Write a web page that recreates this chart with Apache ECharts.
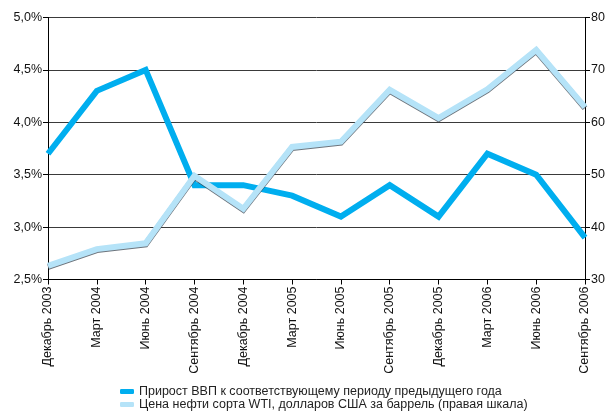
<!DOCTYPE html>
<html>
<head>
<meta charset="utf-8">
<script src="https://cdn.jsdelivr.net/npm/echarts@6/dist/echarts.min.js"></script>
<style>
  html, body { margin: 0; padding: 0; background: #fff; }
  #chart { width: 610px; height: 418px; }
</style>
</head>
<body>
<div id="chart"></div>
<script>
// Quarterly periods
const categories = [
  'Декабрь 2003', 'Март 2004', 'Июнь 2004', 'Сентябрь 2004',
  'Декабрь 2004', 'Март 2005', 'Июнь 2005', 'Сентябрь 2005',
  'Декабрь 2005', 'Март 2006', 'Июнь 2006', 'Сентябрь 2006'
];

// GDP growth vs same period of previous year, %
const gdpGrowth = [3.7, 4.3, 4.5, 3.4, 3.4, 3.3, 3.1, 3.4, 3.1, 3.7, 3.5, 2.9];

// WTI oil price, USD per barrel (right scale)
const oilPrice = [32.6, 35.8, 36.9, 49.8, 43.5, 55.3, 56.3, 66.2, 60.8, 66.3, 73.8, 62.9];

const gdpName = 'Прирост ВВП к соответствующему периоду предыдущего года';
const oilName = 'Цена нефти сорта WTI, долларов США за баррель (правая шкала)';

const FONT = '"Liberation Sans", Arial, sans-serif';

const chart = echarts.init(document.getElementById('chart'));
chart.setOption({
  animation: false,
  backgroundColor: '#fff',
  textStyle: { fontFamily: FONT },
  grid: { left: 48, right: 25, top: 17.5, bottom: 138.5 },
  legend: {
    orient: 'vertical',
    left: 120,
    top: 385,
    height: 40,
    padding: 0,
    itemWidth: 14,
    itemHeight: 5,
    itemGap: 0,
    icon: 'roundRect',
    textStyle: { fontFamily: FONT, fontSize: 12.5, lineHeight: 12, color: '#222' },
    data: [
      { name: gdpName, itemStyle: { color: '#00aeef' } },
      { name: oilName, itemStyle: { color: '#b5e3f8' } }
    ]
  },
  xAxis: {
    type: 'category',
    data: categories,
    boundaryGap: false,
    axisLine: { lineStyle: { color: '#000', width: 1 } },
    axisTick: { show: true, length: 5, alignWithLabel: true, lineStyle: { color: '#000' } },
    axisLabel: {
      rotate: 90,
      interval: 0,
      margin: 7,
      fontFamily: FONT,
      fontSize: 12.5,
      color: '#111'
    },
    splitLine: { show: false }
  },
  yAxis: [
    {
      type: 'value',
      min: 2.5,
      max: 5,
      interval: 0.5,
      axisLine: { show: true, lineStyle: { color: '#000', width: 1 } },
      axisTick: { show: true, length: 5, lineStyle: { color: '#000' } },
      axisLabel: {
        margin: 6,
        fontFamily: FONT,
        fontSize: 12.5,
        color: '#111',
        formatter: v => v.toFixed(1).replace('.', ',') + '%'
      },
      splitLine: { show: true, lineStyle: { color: '#3a3a3a', width: 1 } }
    },
    {
      type: 'value',
      min: 30,
      max: 80,
      interval: 10,
      position: 'right',
      axisLine: { show: true, lineStyle: { color: '#000', width: 1 } },
      axisTick: { show: true, length: 5, lineStyle: { color: '#000' } },
      axisLabel: {
        margin: 6,
        fontFamily: FONT,
        fontSize: 12.5,
        color: '#111'
      },
      splitLine: { show: false }
    }
  ],
  series: [
    {
      name: gdpName,
      type: 'line',
      yAxisIndex: 0,
      data: gdpGrowth,
      symbol: 'none',
      color: '#00aeef',
      lineStyle: { color: '#00aeef', width: 6, join: 'miter', cap: 'butt' },
      z: 2
    },
    {
      name: oilName,
      type: 'line',
      yAxisIndex: 1,
      data: oilPrice,
      symbol: 'none',
      color: '#b5e3f8',
      lineStyle: {
        color: '#b5e3f8',
        width: 6,
        join: 'miter',
        cap: 'butt',
        shadowColor: 'rgba(60,70,80,0.75)',
        shadowBlur: 0,
        shadowOffsetX: 0,
        shadowOffsetY: 1
      },
      z: 3
    }
  ]
});
</script>
</body>
</html>
